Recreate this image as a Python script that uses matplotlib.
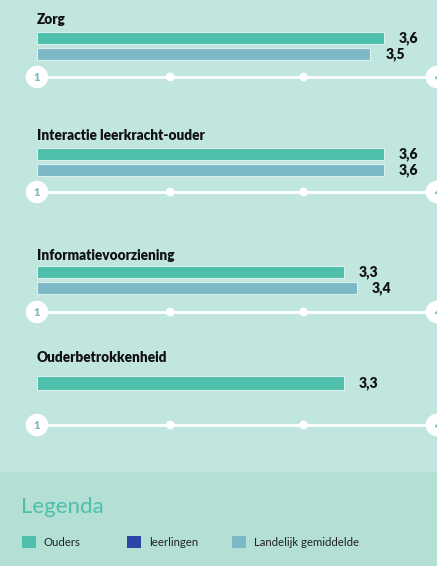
import matplotlib
matplotlib.use("Agg")
import matplotlib.pyplot as plt
from matplotlib.patches import Rectangle

# ---- data ----
categories = ["Zorg", "Interactie leerkracht-ouder", "Informatievoorziening", "Ouderbetrokkenheid"]
ouders = [3.6, 3.6, 3.3, 3.3]
landelijk = [3.5, 3.6, 3.4, None]
scale_ticks = [1, 2, 3, 4]
legend_labels = ["Ouders", "leerlingen", "Landelijk gemiddelde"]

# ---- style ----
C_OUDERS = "#4dbfaa"
C_LEERL = "#2a47a8"
C_LAND = "#7cb8c6"
BG = "#c1e5df"
BG_LEG = "#b3dfd5"
FONT = "Lato"

W, H = 437, 566
fig = plt.figure(figsize=(W / 100, H / 100), dpi=100)
fig.patch.set_facecolor(BG)
ax = fig.add_axes([0, 0, 1, 1])
ax.set_facecolor(BG)
px_per_unit = 133.3
x0 = 1 - 37 / px_per_unit
ax.set_xlim(x0, x0 + W / px_per_unit)
ax.set_ylim(H, 0)
ax.axis("off")

def px(dx):
    return dx / px_per_unit

# legend background band
ax.add_patch(Rectangle((x0, 472), W / px_per_unit, H - 472, facecolor=BG_LEG,
                       edgecolor="none", zorder=0))

# layout per section: title y, bar ys, axis y
title_y = [19, 136, 255, 358]
bar1_y = [38, 154, 272, 383]
bar2_y = [54, 170, 288, None]
axis_y = [77, 192, 312, 425]
bar_h = 12.5

for i, cat in enumerate(categories):
    ax.text(1, title_y[i], cat, fontsize=9.8, fontweight="heavy", family=FONT,
            color="#111111", va="center", ha="left")
    ax.barh(bar1_y[i], ouders[i] - 1, left=1, height=bar_h if bar2_y[i] else 14,
            color=C_OUDERS, edgecolor="#d9f0ec", linewidth=0.8, zorder=2)
    ax.text(ouders[i] + px(15), bar1_y[i], f"{ouders[i]:.1f}".replace(".", ","),
            fontsize=10, fontweight="heavy", family=FONT, color="#111111",
            va="center", ha="left")
    if landelijk[i] is not None:
        ax.barh(bar2_y[i], landelijk[i] - 1, left=1, height=bar_h,
                color=C_LAND, edgecolor="#d9f0ec", linewidth=0.8, zorder=2)
        ax.text(landelijk[i] + px(15), bar2_y[i], f"{landelijk[i]:.1f}".replace(".", ","),
                fontsize=10, fontweight="heavy", family=FONT, color="#111111",
                va="center", ha="left")
    # axis line
    ay = axis_y[i]
    ax.plot([scale_ticks[0], scale_ticks[-1]], [ay, ay], color="white", lw=2, zorder=3)
    ax.scatter(scale_ticks[1:-1], [ay] * (len(scale_ticks) - 2), s=40, color="white",
               zorder=4, edgecolors="none")
    for t in (scale_ticks[0], scale_ticks[-1]):
        ax.scatter([t], [ay], s=260, color="white", zorder=4, edgecolors="none")
        ax.text(t, ay + 0.5, str(t), fontsize=8, fontweight="heavy", family=FONT,
                color=C_LAND, ha="center", va="center", zorder=5)

# legend
ax.text(x0 + px(21), 507, "Legenda", fontsize=16, family=FONT, color=C_OUDERS,
        va="center", ha="left")
leg_x = [22, 127, 232]
leg_colors = [C_OUDERS, C_LEERL, C_LAND]
for lx, lab, col in zip(leg_x, legend_labels, leg_colors):
    ax.add_patch(Rectangle((x0 + px(lx), 536), px(14), 12, facecolor=col,
                           edgecolor="none", zorder=3))
    ax.text(x0 + px(lx + 22), 542.5, lab, fontsize=8.2, family=FONT, color="#222222",
            va="center", ha="left")

fig.savefig("out.png", dpi=100, facecolor=BG)
